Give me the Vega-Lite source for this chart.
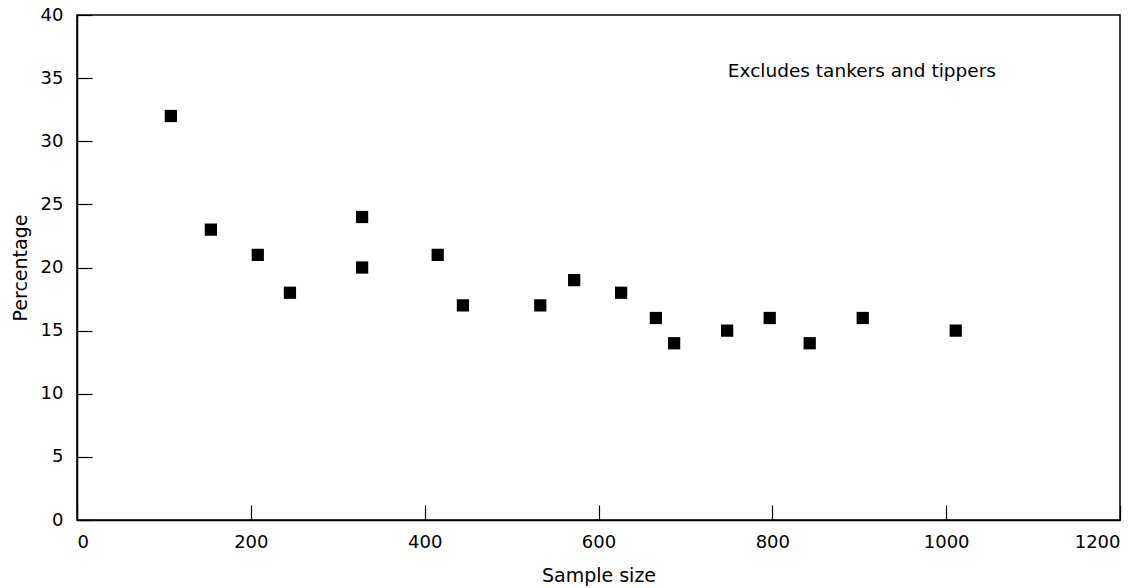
{
  "$schema": "https://vega.github.io/schema/vega-lite/v6.json",
  "width": 1043,
  "height": 505,
  "autosize": "none",
  "padding": {"left": 77, "top": 15, "right": 27, "bottom": 68},
  "background": "white",
  "config": {
    "view": {"stroke": "black", "strokeWidth": 1.5},
    "font": "DejaVu Sans",
    "axis": {
      "grid": false,
      "domainColor": "black",
      "domainWidth": 1.5,
      "tickColor": "black",
      "tickWidth": 1.2,
      "tickSize": -15,
      "labelFont": "DejaVu Sans",
      "labelFontSize": 18,
      "labelColor": "black",
      "format": "d",
      "titleFont": "DejaVu Sans",
      "titleFontSize": 19,
      "titleFontWeight": "normal",
      "titleColor": "black"
    }
  },
  "data": {
    "values": [
      {"sample": 108, "pct": 32},
      {"sample": 154, "pct": 23},
      {"sample": 208, "pct": 21},
      {"sample": 245, "pct": 18},
      {"sample": 328, "pct": 24},
      {"sample": 328, "pct": 20},
      {"sample": 415, "pct": 21},
      {"sample": 444, "pct": 17},
      {"sample": 533, "pct": 17},
      {"sample": 572, "pct": 19},
      {"sample": 626, "pct": 18},
      {"sample": 666, "pct": 16},
      {"sample": 687, "pct": 14},
      {"sample": 748, "pct": 15},
      {"sample": 797, "pct": 16},
      {"sample": 843, "pct": 14},
      {"sample": 904, "pct": 16},
      {"sample": 1011, "pct": 15}
    ]
  },
  "layer": [
    {
      "mark": {"type": "square", "size": 150, "color": "black", "opacity": 1, "filled": true},
      "encoding": {
        "x": {
          "field": "sample", "type": "quantitative",
          "scale": {"domain": [0, 1200], "nice": false},
          "axis": {"values": [0, 200, 400, 600, 800, 1000, 1200], "title": "Sample size", "labelPadding": 28, "titlePadding": 15}
        },
        "y": {
          "field": "pct", "type": "quantitative",
          "scale": {"domain": [0, 40], "nice": false},
          "axis": {"values": [0, 5, 10, 15, 20, 25, 30, 35, 40], "title": "Percentage", "labelPadding": 29, "titlePadding": 10}
        }
      }
    },
    {
      "data": {"values": [{"label": "Excludes tankers and tippers", "sample": 903, "pct": 35.6}]},
      "mark": {"type": "text", "fontSize": 18.5, "font": "DejaVu Sans", "color": "black", "align": "center", "baseline": "middle"},
      "encoding": {
        "x": {"field": "sample", "type": "quantitative"},
        "y": {"field": "pct", "type": "quantitative"},
        "text": {"field": "label"}
      }
    }
  ]
}
